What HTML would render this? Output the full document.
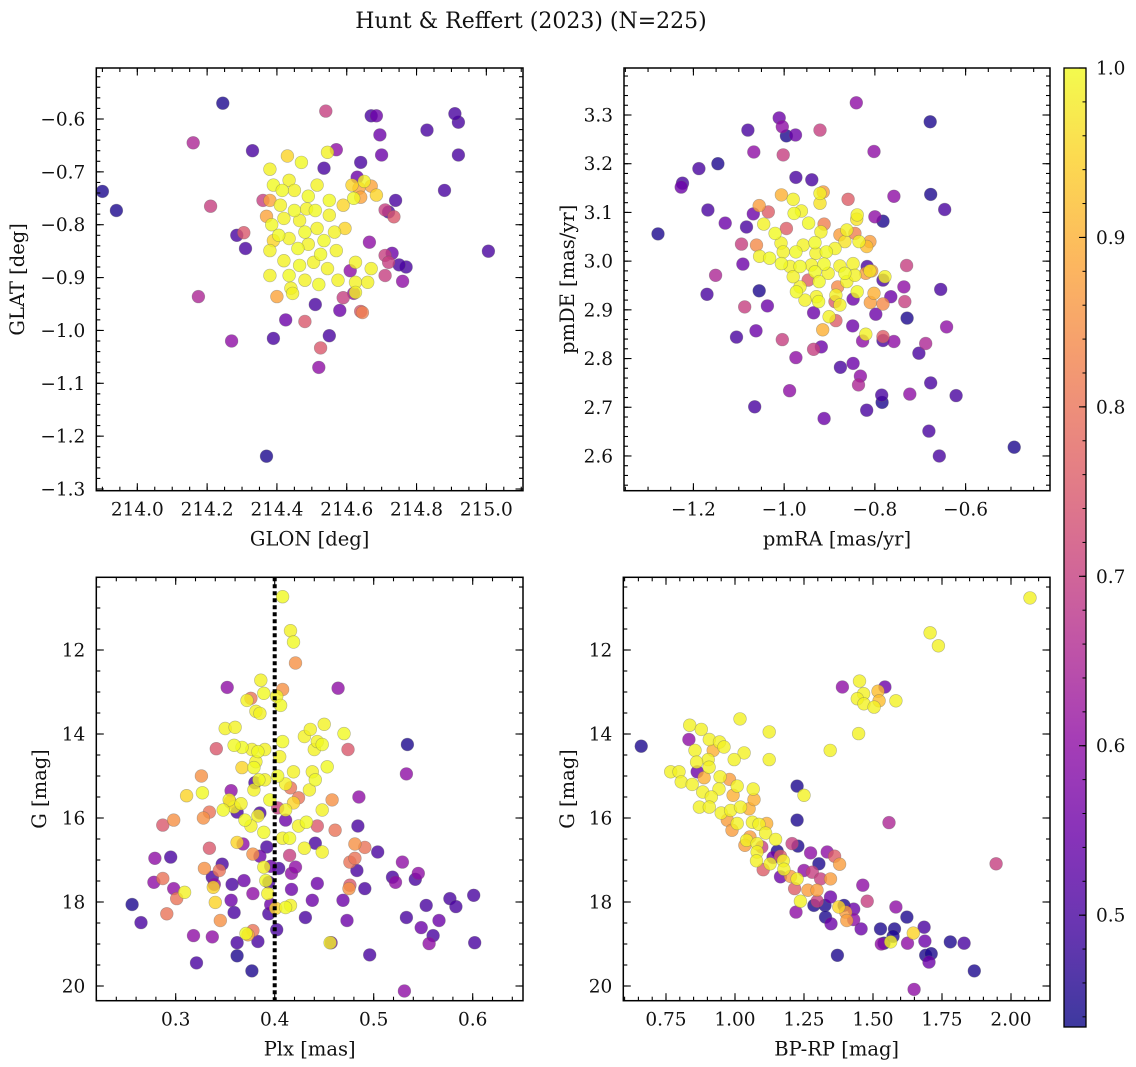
<!DOCTYPE html>
<html><head><meta charset="utf-8"><title>Hunt & Reffert (2023)</title>
<style>
html,body{margin:0;padding:0;background:#fff;}
svg{display:block;font-family:"DejaVu Serif","Liberation Serif",serif;}
</style></head>
<body>
<svg id="fig" width="1136" height="1067" viewBox="0 0 1136 1067" xmlns="http://www.w3.org/2000/svg">
<text x="531" y="28" text-anchor="middle" font-size="22" fill="#111">Hunt &amp; Reffert (2023) (N=225)</text>
</svg>
<script>
// ---------- Panel 1: GLON / GLAT ----------
const glon=[213.90,213.94,214.245,214.16,214.175,214.21,214.27,214.33,214.285,214.305,214.31,214.37,214.39,214.425,214.54,214.535,214.67,214.685,214.695,214.70,214.83,214.92,214.91,214.92,214.88,215.006,214.74,214.72,214.73,214.77,214.75,214.76,214.71,214.665,214.64,214.63,214.57,214.55,214.52,214.525,214.48,214.51,214.58,214.64,214.61,214.62,214.59,214.71,214.72,214.71,214.735,214.36,
214.38,214.39,214.43,214.47,214.545,214.435,214.415,214.45,214.49,214.41,214.37,214.385,214.42,214.465,214.51,214.55,214.59,214.615,214.635,214.62,214.64,214.65,214.405,214.435,214.48,214.515,214.535,214.565,214.595,214.46,214.49,214.525,214.57,214.42,214.465,214.505,214.545,214.38,214.38,214.435,214.48,214.52,214.44,214.40,214.445,214.575,214.625,214.66,214.67,214.625,214.625,214.645,214.67,214.685,214.38,214.39,214.45,214.485,214.55,214.515];
const glat=[-0.737,-0.773,-0.57,-0.645,-0.936,-0.765,-1.02,-0.66,-0.82,-0.815,-0.845,-1.238,-1.015,-0.98,-0.585,-0.693,-0.594,-0.594,-0.63,-0.668,-0.621,-0.606,-0.59,-0.668,-0.735,-0.85,-0.754,-0.776,-0.854,-0.88,-0.876,-0.907,-0.896,-0.833,-0.682,-0.71,-0.658,-1.01,-1.07,-1.033,-0.983,-0.951,-0.962,-0.964,-0.887,-0.93,-0.938,-0.858,-0.871,-0.772,-0.785,-0.754,
-0.695,-0.725,-0.67,-0.682,-0.663,-0.716,-0.735,-0.735,-0.746,-0.763,-0.784,-0.8,-0.788,-0.792,-0.773,-0.782,-0.763,-0.725,-0.731,-0.75,-0.748,-0.718,-0.82,-0.826,-0.814,-0.807,-0.83,-0.814,-0.807,-0.845,-0.837,-0.856,-0.849,-0.868,-0.877,-0.871,-0.883,-0.849,-0.896,-0.896,-0.905,-0.913,-0.92,-0.936,-0.93,-0.905,-0.909,-0.909,-0.883,-0.871,-0.928,-0.966,-0.727,-0.744,-0.754,-0.83,-0.773,-0.77,-0.754,-0.725];
const prob1=[0.45,0.45,0.45,0.65,0.65,0.7,0.6,0.5,0.5,0.75,0.5,0.45,0.5,0.55,0.7,0.5,0.5,0.55,0.55,0.55,0.5,0.5,0.5,0.5,0.5,0.5,0.5,0.5,0.55,0.5,0.5,0.6,0.7,0.6,0.5,0.55,0.6,0.5,0.6,0.75,0.75,0.5,0.55,0.75,0.6,0.6,0.7,0.7,0.7,0.7,0.75,0.7,
0.99,1.0,0.95,1.0,0.99,0.99,1.0,0.99,1.0,0.99,0.88,1.0,0.99,0.99,1.0,0.99,0.95,0.95,0.88,1.0,0.88,0.99,1.0,0.99,1.0,0.99,1.0,0.99,0.95,1.0,0.99,1.0,0.99,0.99,1.0,0.99,0.99,0.99,0.99,1.0,0.99,1.0,0.99,0.88,0.99,0.99,0.99,0.99,0.99,0.99,0.99,0.82,0.88,0.95,0.88,0.95,1.0,0.99,1.0,0.99];

// ---------- Panel 2: pmRA / pmDE ----------
const pmra=[-1.278,-1.227,-1.224,-1.188,-1.146,-1.168,-1.130,-1.080,-1.067,-1.068,-1.083,-1.094,-1.091,-1.151,-1.170,-1.055,-1.087,-1.037,-1.105,-1.062,-1.065,-1.011,-1.004,-0.995,-0.975,-1.002,-0.974,-0.939,-0.921,-0.841,-0.802,-0.758,-0.678,-0.677,-0.646,-0.782,-0.800,-0.730,-0.736,-0.655,-0.734,-0.765,-0.782,-0.817,-0.798,-0.729,-0.642,-0.782,-0.758,-0.688,-0.703,-0.827,-0.849,-0.848,-0.832,-0.836,-0.876,-0.935,-0.918,-0.974,-1.004,-0.935,-0.848,-0.988,-0.912,-0.818,-0.785,-0.784,-0.723,-0.677,-0.621,-0.681,-0.658,-0.493,
-1.006,-1.055,-1.035,-1.061,-0.859,-0.914,-0.912,-0.995,-0.877,-0.844,-0.811,-0.818,-0.807,-0.820,-0.802,-0.810,-0.782,-0.888,-0.886,-0.915,-0.782,-0.947,-0.882,
-0.980,-0.921,-0.921,-0.978,-0.962,-1.045,-0.946,-0.919,-0.839,-0.840,-0.862,-1.020,-1.007,-1.054,-1.032,-1.002,-0.974,-0.958,-0.932,-0.930,-0.907,-0.888,-0.866,-0.835,-1.006,-0.987,-0.965,-0.940,-0.912,-0.877,-0.848,-0.932,-0.903,-0.866,-0.965,-0.923,-0.862,-0.844,-0.811,-0.778,-0.973,-0.929,-0.886,-0.839,-0.954,-0.924,-0.877,-0.901,-0.820,-0.980];
const pmde=[3.056,3.152,3.160,3.190,3.200,3.105,3.078,3.269,3.224,3.097,3.070,3.035,2.994,2.971,2.932,2.939,2.906,2.908,2.844,2.857,2.701,3.294,3.276,3.257,3.259,3.218,3.172,3.167,3.269,3.325,3.225,3.133,3.286,3.137,3.106,3.082,3.091,2.991,2.947,2.942,2.917,2.927,2.961,2.989,2.891,2.883,2.865,2.837,2.835,2.831,2.811,2.836,2.867,2.790,2.764,2.746,2.782,2.819,2.824,2.802,2.839,2.894,2.922,2.734,2.677,2.694,2.725,2.710,2.727,2.750,2.724,2.651,2.600,2.618,
3.136,3.114,3.101,3.033,3.127,3.142,3.076,3.067,3.054,3.057,3.040,3.030,2.980,2.975,2.934,2.915,2.912,2.917,2.878,2.859,2.845,2.961,2.947,
3.127,3.139,3.119,3.098,3.103,3.076,3.078,3.060,3.095,3.086,3.064,3.057,3.037,3.010,3.006,3.019,3.019,3.033,3.038,3.016,3.019,3.026,3.040,3.040,2.995,2.989,2.989,2.992,2.994,2.990,2.995,2.978,2.975,2.975,2.947,2.958,2.958,2.971,2.980,2.968,2.937,2.927,2.930,2.937,2.920,2.917,2.910,2.886,2.850,2.968];
const prob2=[0.45,0.55,0.5,0.5,0.45,0.5,0.55,0.5,0.6,0.55,0.5,0.7,0.55,0.65,0.5,0.45,0.7,0.55,0.5,0.55,0.5,0.55,0.6,0.45,0.55,0.7,0.5,0.5,0.7,0.6,0.6,0.6,0.45,0.45,0.5,0.45,0.6,0.7,0.6,0.5,0.7,0.55,0.5,0.5,0.55,0.45,0.6,0.5,0.6,0.65,0.5,0.6,0.55,0.55,0.6,0.65,0.5,0.7,0.55,0.6,0.7,0.55,0.55,0.6,0.55,0.5,0.5,0.45,0.6,0.5,0.5,0.5,0.5,0.45,
0.9,0.87,0.76,0.84,0.76,0.87,0.82,0.76,0.87,0.82,0.87,0.92,0.87,0.87,0.9,0.87,0.84,0.76,0.76,0.9,0.76,0.76,0.84,
0.99,0.99,0.97,1.0,0.99,0.99,1.0,0.99,0.99,0.97,0.99,1.0,0.99,0.99,1.0,0.99,1.0,0.99,1.0,0.99,1.0,0.99,0.97,0.99,1.0,0.99,1.0,0.99,1.0,0.99,0.99,1.0,0.99,1.0,0.99,1.0,0.99,0.99,0.97,0.99,1.0,0.99,0.99,1.0,0.99,1.0,0.99,0.99,0.99,0.99];

// ---------- Panel 3: Plx / G ----------
const plx=[0.256,0.265,0.278,0.279,0.295,0.298,0.318,0.321,0.337,0.337,0.339,0.347,0.352,0.356,0.356,0.359,0.362,0.362,0.357,0.368,0.369,0.377,0.378,0.385,0.383,0.394,0.396,0.394,0.392,0.396,0.402,0.417,0.421,0.417,0.431,0.438,0.443,0.441,0.457,0.464,0.469,0.473,0.483,0.484,0.485,0.491,0.496,0.504,0.519,0.522,0.529,0.533,0.534,0.533,0.531,0.542,0.545,0.548,0.553,0.556,0.560,0.566,0.577,0.583,0.601,0.602,0.385,0.380,0.362,0.404,0.411,
0.287,0.291,0.301,0.287,0.298,0.326,0.328,0.334,0.334,0.341,0.344,0.345,0.329,0.355,0.373,0.376,0.408,0.421,0.415,0.416,0.424,0.443,0.458,0.461,0.474,0.481,0.476,0.481,0.475,0.476,0.491,0.378,0.378,0.403,
0.408,0.416,0.419,0.386,0.389,0.402,0.406,0.372,0.381,0.350,0.360,0.367,0.377,0.383,0.390,0.381,0.384,0.367,0.405,0.408,0.419,0.430,0.436,0.450,0.448,0.440,0.443,0.470,0.453,0.438,0.441,0.435,0.419,0.411,0.403,0.379,0.359,0.348,0.354,0.366,0.370,0.383,0.376,0.389,0.390,0.395,0.411,0.408,0.415,0.424,0.416,0.411,0.401,0.379,0.311,0.309,0.338,0.340,0.362,0.371,0.389,0.391,0.393,0.432,0.430,0.448,0.456,0.448,0.385,0.359,0.327];
const gmag3=[18.06,18.49,17.53,16.96,16.93,17.68,18.8,19.45,18.83,17.41,17.58,17.1,12.89,15.35,17.96,18.25,18.97,19.28,17.58,16.62,17.49,19.64,17.8,16.91,18.94,17.53,18.06,18.28,16.69,17.15,18.66,17.32,17.17,17.7,18.37,17.96,17.56,16.6,18.97,12.91,17.96,18.44,17.25,16.19,15.5,17.68,19.26,16.81,17.41,17.53,17.05,14.95,14.25,18.37,20.12,17.46,17.32,18.61,18.08,18.99,18.8,18.44,17.92,18.11,17.84,18.97,15.88,15.16,15.86,17.2,16.05,
17.44,18.28,17.92,16.17,16.05,15.0,16.0,15.86,16.72,14.35,17.25,18.44,17.2,15.62,18.78,13.15,12.94,12.31,16.89,15.28,15.52,16.19,15.57,16.29,14.37,16.62,17.05,16.96,17.68,17.6,16.7,18.68,16.86,15.76,
10.73,11.54,11.81,12.72,13.03,13.1,13.32,13.2,13.46,13.87,13.84,14.32,14.37,14.42,14.37,14.66,15.09,14.8,14.54,14.18,14.9,14.06,13.89,13.77,14.25,14.37,14.18,13.99,14.78,14.9,15.09,15.33,15.64,15.19,15.0,15.33,15.74,15.81,15.57,15.66,16.05,15.95,16.19,16.34,15.09,15.57,15.81,16.48,16.48,16.19,18.08,18.13,18.15,14.8,15.47,17.77,17.65,18.01,16.58,18.75,17.17,17.49,17.8,16.1,16.72,16.81,18.97,15.81,13.51,14.27,15.4];
const prob3=[0.45,0.5,0.6,0.6,0.5,0.6,0.6,0.5,0.6,0.5,0.6,0.5,0.6,0.6,0.55,0.5,0.5,0.45,0.5,0.6,0.55,0.45,0.6,0.55,0.5,0.5,0.55,0.5,0.5,0.55,0.5,0.6,0.6,0.55,0.5,0.55,0.55,0.5,0.55,0.6,0.55,0.55,0.5,0.5,0.6,0.5,0.5,0.5,0.5,0.6,0.6,0.6,0.45,0.5,0.6,0.5,0.6,0.55,0.5,0.6,0.5,0.55,0.5,0.5,0.5,0.5,0.5,0.5,0.5,0.5,0.55,
0.8,0.8,0.8,0.75,0.85,0.85,0.85,0.8,0.75,0.75,0.8,0.85,0.85,0.8,0.9,0.8,0.85,0.85,0.7,0.8,0.8,0.75,0.85,0.8,0.75,0.85,0.8,0.8,0.85,0.75,0.8,0.8,0.85,0.7,
1.0,0.99,1.0,0.99,1.0,0.99,1.0,0.99,0.99,0.99,0.99,1.0,0.99,1.0,0.99,0.99,1.0,0.95,0.99,1.0,0.99,0.99,0.99,0.99,1.0,0.99,0.99,1.0,1.0,0.99,1.0,0.99,0.95,0.99,1.0,0.99,0.99,1.0,0.99,0.99,1.0,0.99,0.99,1.0,0.99,1.0,0.99,0.99,1.0,0.99,0.99,1.0,0.95,1.0,0.95,0.99,0.95,0.95,0.95,1.0,0.99,1.0,0.99,1.0,0.99,0.99,0.99,0.99,0.99,1.0,1.0];

// ---------- Panel 4: BP-RP / G ----------
const bprp=[2.069,1.707,1.737,1.389,1.543,1.451,1.466,1.443,1.467,1.518,1.522,1.504,1.583,1.448,1.345,1.018,1.124,1.124,0.660,0.836,0.878,0.833,0.907,0.944,0.855,0.960,1.033,0.921,0.997,0.903,0.861,0.906,0.767,0.797,0.863,0.805,0.845,0.888,0.946,0.980,1.008,1.066,0.883,0.942,0.993,0.914,0.871,0.907,0.950,0.984,1.020,1.051,1.069,0.972,1.008,1.063,1.087,1.115,0.989,1.111,1.147,1.042,1.054,1.080,1.036,1.097,1.080,1.078,1.102,1.127,1.153,1.138,1.165,1.207,1.228,1.274,1.304,1.334,1.361,1.379,1.346,1.175,1.177,1.165,1.201,1.225,1.250,1.280,1.310,1.216,1.264,1.297,1.237,1.221,1.298,1.286,1.326,1.346,1.376,1.395,1.401,1.405,1.430,1.430,1.328,1.348,1.457,1.463,1.479,1.371,1.558,1.583,1.623,1.527,1.578,1.573,1.564,1.530,1.540,1.646,1.625,1.685,1.688,1.691,1.711,1.703,1.649,1.780,1.830,1.867,1.946,1.225,1.250,1.225];
const gmag4=[10.76,11.59,11.90,12.88,12.88,12.74,13.04,13.16,13.28,12.98,13.21,13.36,13.21,13.99,14.39,13.64,13.95,14.61,14.29,13.79,13.89,14.13,14.13,14.19,14.39,14.31,14.45,14.39,14.61,14.61,14.67,14.79,14.90,14.90,14.90,15.14,15.20,15.04,15.02,15.08,15.24,15.31,15.38,15.31,15.46,15.50,15.74,15.74,15.88,15.82,15.74,15.78,15.56,16.05,16.13,16.10,16.15,16.13,16.29,16.36,16.51,16.53,16.45,16.61,16.65,16.69,16.81,17.02,17.23,17.09,16.79,16.94,16.91,16.61,16.67,16.83,17.09,16.81,16.91,17.10,17.45,17.02,17.22,17.40,17.39,17.45,17.25,17.29,17.45,17.68,17.72,17.72,17.98,18.24,17.98,18.08,18.08,17.88,18.12,18.08,18.24,18.44,18.17,18.42,18.36,18.52,18.64,17.60,17.98,19.27,16.11,18.12,18.36,18.64,18.64,18.82,18.95,19.00,18.98,18.74,18.98,18.60,18.93,19.27,19.23,19.43,20.08,18.95,18.98,19.64,17.09,15.24,15.46,16.05];
const prob4=[0.99,0.99,0.99,0.6,0.55,0.99,0.99,0.99,0.99,0.92,0.92,0.99,0.99,0.99,0.99,0.99,0.99,0.99,0.45,0.99,0.99,0.6,0.99,0.99,0.99,0.99,0.99,0.9,0.99,0.99,0.99,0.99,0.99,0.99,0.55,0.99,0.99,0.9,0.99,0.87,0.99,0.99,0.99,0.99,0.9,0.99,0.99,0.99,0.99,0.99,0.99,0.9,0.9,0.87,0.99,0.99,0.99,0.9,0.87,0.99,0.99,0.99,0.87,0.99,0.87,0.7,0.99,0.99,0.76,0.99,0.45,0.55,0.76,0.7,0.45,0.6,0.45,0.6,0.76,0.87,0.87,0.99,0.99,0.55,0.87,0.99,0.6,0.7,0.7,0.76,0.87,0.87,0.99,0.6,0.7,0.45,0.45,0.55,0.95,0.45,0.87,0.87,0.55,0.6,0.45,0.55,0.55,0.6,0.7,0.45,0.65,0.6,0.45,0.45,0.45,0.45,0.99,0.6,0.45,0.95,0.6,0.5,0.55,0.45,0.45,0.55,0.6,0.45,0.5,0.45,0.7,0.45,0.99,0.45];

// colour-scale range and colorbar ticks
const VMIN=0.434, VMAX=1.0;
const cbTicks=[0.5,0.6,0.7,0.8,0.9,1.0];

const NS="http://www.w3.org/2000/svg";
const svg=document.getElementById('fig');
const PL=[[13,8,135],[65,4,157],[106,0,168],[143,13,164],[177,42,144],[204,71,120],[225,100,98],[242,132,75],[252,166,54],[252,206,37],[240,249,33]];
function plasma(t){t=Math.max(0,Math.min(1,t));const f=t*10;const i=Math.min(9,Math.floor(f));const r=f-i;const a=PL[i],b=PL[i+1];
return 'rgb('+Math.round(a[0]+(b[0]-a[0])*r)+','+Math.round(a[1]+(b[1]-a[1])*r)+','+Math.round(a[2]+(b[2]-a[2])*r)+')';}
function cmap(p){return plasma((p-VMIN)/(VMAX-VMIN));}
function mk(tag,attrs,parent){const e=document.createElementNS(NS,tag);for(const k in attrs)e.setAttribute(k,attrs[k]);(parent||svg).appendChild(e);return e;}
function fmt(v,d){const s=Math.abs(v).toFixed(d);return (v<-1e-9?'\u2212':'')+s;}
function range(a,b,s){const r=[];const n=Math.round((b-a)/s);for(let i=0;i<=n;i++)r.push(+(a+i*s).toFixed(6));return r;}

const TFS=18.5, LFS=19.5;
function panel(c){
  const g=mk('g',{});
  
  
  const sx=v=>c.x0+(v-c.xl)/(c.xr-c.xl)*(c.x1-c.x0);
  const sy=v=>c.y1-(v-c.yb)/(c.yt-c.yb)*(c.y1-c.y0);
  const clip='clip-'+c.name;
  const cp=mk('clipPath',{id:clip},g);mk('rect',{x:c.x0,y:c.y0,width:c.x1-c.x0,height:c.y1-c.y0},cp);
  const pg=mk('g',{'clip-path':'url(#'+clip+')'},g);
  
  
  const idx=c.xs.map((_,i)=>i).sort((a,b)=>c.ps[a]-c.ps[b]);
  idx.forEach(i=>{
    const el=mk('circle',{cx:sx(c.xs[i]).toFixed(1),cy:sy(c.ys[i]).toFixed(1),r:6.4,fill:cmap(c.ps[i]),'fill-opacity':0.8,stroke:'#666','stroke-opacity':0.45,'stroke-width':0.6},pg);
    
    
  });
  if(c.vline!==undefined){
    const vl=mk('line',{x1:sx(c.vline),x2:sx(c.vline),y1:c.y0,y2:c.y1,stroke:'#000','stroke-width':4,'stroke-dasharray':'4 3'},g);
    
    
  }
  const tg=mk('g',{stroke:'#000','stroke-width':1.1},g);
  const inR=(v,a,b)=>v>=Math.min(a,b)-1e-9&&v<=Math.max(a,b)+1e-9;
  c.xminor.forEach(v=>{if(!inR(v,c.xl,c.xr))return;const x=sx(v);mk('line',{x1:x,x2:x,y1:c.y1,y2:c.y1-4},tg);mk('line',{x1:x,x2:x,y1:c.y0,y2:c.y0+4},tg);});
  c.yminor.forEach(v=>{if(!inR(v,c.yb,c.yt))return;const y=sy(v);mk('line',{x1:c.x0,x2:c.x0+4,y1:y,y2:y},tg);mk('line',{x1:c.x1,x2:c.x1-4,y1:y,y2:y},tg);});
  c.xmajor.forEach(v=>{const x=sx(v);mk('line',{x1:x,x2:x,y1:c.y1,y2:c.y1-7.5},tg);mk('line',{x1:x,x2:x,y1:c.y0,y2:c.y0+7.5},tg);
    const t=mk('text',{x:x,y:c.y1+25,'text-anchor':'middle','font-size':TFS,fill:'#111',stroke:'none'},g);t.textContent=fmt(v,c.xd);
    
    });
  c.ymajor.forEach(v=>{const y=sy(v);mk('line',{x1:c.x0,x2:c.x0+7.5,y1:y,y2:y},tg);mk('line',{x1:c.x1,x2:c.x1-7.5,y1:y,y2:y},tg);
    const t=mk('text',{x:c.x0-11,y:y+6.5,'text-anchor':'end','font-size':TFS,fill:'#111',stroke:'none'},g);t.textContent=fmt(v,c.yd);
    
    });
  const fr=mk('rect',{x:c.x0,y:c.y0,width:c.x1-c.x0,height:c.y1-c.y0,fill:'none',stroke:'#000','stroke-width':1.5},g);
  
  
  const xl=mk('text',{x:(c.x0+c.x1)/2,y:c.y1+55,'text-anchor':'middle','font-size':LFS,fill:'#111'},g);xl.textContent=c.xlabel;
  
  
  const yl=mk('text',{x:0,y:0,'text-anchor':'middle','font-size':LFS,fill:'#111',transform:'translate('+c.ylx+','+((c.y0+c.y1)/2)+') rotate(-90)'},g);yl.textContent=c.ylabel;
  
  
}

const TOP=68,BOT1=490.7,TOP2=577.3,BOT2=1000.7;
panel({name:'glon-glat-panel',x0:96.3,x1:523,y0:TOP,y1:BOT1,xl:213.8825,xr:215.105,yb:-1.3032,yt:-0.5035,
  xs:glon,ys:glat,ps:prob1,xmajor:range(214.0,215.0,0.2),xminor:range(213.9,215.1,0.05),ymajor:range(-1.3,-0.6,0.1),yminor:range(-1.3,-0.5,0.02),
  xd:1,yd:1,xlabel:'GLON [deg]',ylabel:'GLAT [deg]',ylx:24});
panel({name:'pm-panel',x0:624,x1:1050,y0:TOP,y1:BOT1,xl:-1.353,xr:-0.414,yb:2.5287,yt:3.3965,
  xs:pmra,ys:pmde,ps:prob2,xmajor:range(-1.2,-0.6,0.2),xminor:range(-1.35,-0.4,0.05),ymajor:range(2.6,3.3,0.1),yminor:range(2.54,3.4,0.02),
  xd:1,yd:1,xlabel:'pmRA [mas/yr]',ylabel:'pmDE [mas/yr]',ylx:574});
panel({name:'plx-g-panel',x0:96.3,x1:523,y0:TOP2,y1:BOT2,xl:0.2198,xr:0.6508,yb:20.35,yt:10.269,
  xs:plx,ys:gmag3,ps:prob3,xmajor:[0.3,0.4,0.5,0.6],xminor:range(0.22,0.65,0.02),ymajor:[12,14,16,18,20],yminor:range(10.5,20,0.5),
  xd:1,yd:0,xlabel:'Plx [mas]',ylabel:'G [mag]',ylx:46,vline:0.4});
panel({name:'cmd-panel',x0:623.3,x1:1050,y0:TOP2,y1:BOT2,xl:0.5953,xr:2.1413,yb:20.35,yt:10.269,
  xs:bprp,ys:gmag4,ps:prob4,xmajor:range(0.75,2.0,0.25),xminor:range(0.6,2.15,0.05),ymajor:[12,14,16,18,20],yminor:range(10.5,20,0.5),
  xd:2,yd:0,xlabel:'BP-RP [mag]',ylabel:'G [mag]',ylx:574});

// ---------- colorbar ----------
(function(){
  const x0=1064,x1=1086,y0=68,y1=1027;
  const cg=mk('g',{});
  
  
  const defs=mk('defs',{},cg);
  const lg=mk('linearGradient',{id:'cbgrad',x1:0,y1:1,x2:0,y2:0},defs);
  for(let i=0;i<=20;i++){mk('stop',{offset:(i/20),'stop-color':plasma(i/20)},lg);}
  mk('rect',{x:x0,y:y0,width:x1-x0,height:y1-y0,fill:'url(#cbgrad)','fill-opacity':0.8},cg);
  mk('rect',{x:x0,y:y0,width:x1-x0,height:y1-y0,fill:'none',stroke:'#000','stroke-width':1.3},cg);
  const sy=v=>y1-(v-VMIN)/(VMAX-VMIN)*(y1-y0);
  range(0.44,1.0,0.02).forEach(v=>{const y=sy(v);mk('line',{x1:x1,x2:x1-3.5,y1:y,y2:y,stroke:'#000','stroke-width':1},cg);});
  cbTicks.forEach(v=>{const y=sy(v);mk('line',{x1:x1,x2:x1-7,y1:y,y2:y,stroke:'#000','stroke-width':1.1},cg);
    const t=mk('text',{x:x1+10,y:y+6.5,'font-size':TFS,fill:'#111'},cg);t.textContent=v.toFixed(1);
    
    });
})();
</script>
</body></html>
